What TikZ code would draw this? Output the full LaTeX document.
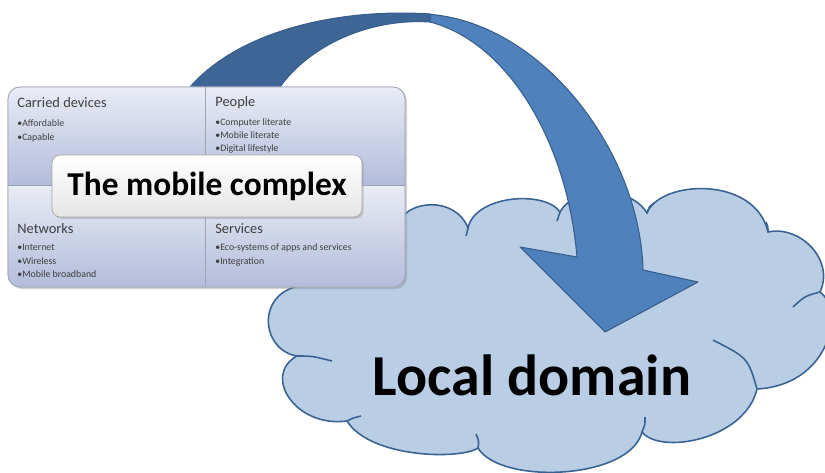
\documentclass[tikz,border=0pt]{standalone}
\usepackage{fontspec}
\setmainfont{Carlito}
\usetikzlibrary{positioning, shadows}

\definecolor{cloudfill}{HTML}{B9CDE5}
\definecolor{cloudline}{HTML}{3A6391}
\definecolor{arrowlight}{HTML}{4F81BD}
\definecolor{arrowdark}{HTML}{3D6697}
\definecolor{arrowline}{HTML}{385D8A}
\definecolor{quadtop}{HTML}{E9ECF5}
\definecolor{quadbot}{HTML}{B3BCDB}
\definecolor{quadline}{HTML}{9EA3B2}
\definecolor{txtgrey}{HTML}{3F3F3F}

\begin{document}
\begin{tikzpicture}
            [x=0.02cm, y=-0.02cm,
             cloudpath/.style={fill=cloudfill, draw=cloudline, line width=0.9pt},
             puff/.style={draw=cloudline, line width=0.9pt},
             ribbon/.style={fill=#1, draw=arrowline, line width=0.6pt, line join=round},
             half/.style={top color=quadtop, bottom color=quadbot},
             head/.style={anchor=base west, inner sep=0pt, text=txtgrey, font=\fontsize{8.2}{10}\selectfont},
             item/.style={anchor=base west, inner sep=0pt, text=txtgrey, font=\fontsize{5.6}{7}\selectfont},
             titlebox/.style={draw=gray!70, rounded corners=0.16cm, top color=white, bottom color=gray!20,
                              drop shadow={shadow xshift=1pt, shadow yshift=-1pt, opacity=0.3},
                              minimum width=6.2cm, minimum height=1.24cm, inner sep=0pt,
                              font=\bfseries\fontsize{19}{22}\selectfont}]
            \useasboundingbox (0,0) rectangle (825,473);
            \clip (0,0) rectangle (825,473);

            \path[cloudpath] (398,225) .. controls (405,200) and (455,195) .. (468,228)
                .. controls (475,195) and (545,190) .. (560,212)
                .. controls (575,185) and (630,185) .. (647,213)
                .. controls (660,180) and (755,175) .. (768,232)
                .. controls (800,225) and (835,260) .. (820,292)
                .. controls (845,310) and (830,385) .. (757,389)
                .. controls (745,440) and (660,455) .. (642,432)
                .. controls (630,480) and (500,485) .. (478,448)
                .. controls (460,460) and (370,458) .. (347,421)
                .. controls (295,428) and (262,375) .. (297,356)
                .. controls (260,350) and (255,290) .. (305,285)
                -- cycle;
            \draw[puff] (297,356) .. controls (312,356) .. (332,361);
            \draw[puff] (347,421) .. controls (353,418) .. (361,416);
            \draw[puff] (478,448) .. controls (479,441) .. (476,434);
            \draw[puff] (642,432) .. controls (645,425) .. (645,417);
            \draw[puff] (757,389) .. controls (748,358) .. (713,340);
            \draw[puff] (820,292) .. controls (805,296) .. (793,307);
            \draw[puff] (768,232) .. controls (768,227) .. (766,222);
            \draw[puff] (647,213) .. controls (649,207) .. (654,203);
            \draw[puff] (560,212) .. controls (558,216) .. (557,221);
            \draw[puff] (468,228) .. controls (467,232) .. (466,236);

            \filldraw[ribbon=arrowlight] (425,14) .. controls (540,20) and (640,150) .. (643,270)
                -- (698,282) -- (605,332) -- (520,247) -- (577,257)
                .. controls (567,140) and (507,42) .. (430,22) -- cycle;
            \filldraw[ribbon=arrowdark] (190,87) .. controls (240,30) and (340,8) .. (430,14)
                -- (430,22) .. controls (370,18) and (310,45) .. (280,87) -- cycle;

            \filldraw[draw=quadline, fill=white, rounded corners=0.24cm,
                      drop shadow={shadow xshift=1.2pt, shadow yshift=-1.2pt, opacity=0.35}]
                (8,87) rectangle (405,287);
            \shade[half] (8,185) [rounded corners=0.24cm] -- (8,87) -- (405,87) [sharp corners] -- (405,185) -- cycle;
            \shade[half] (8,185) -- (405,185) [rounded corners=0.24cm] -- (405,287) -- (8,287) [sharp corners] -- cycle;
            \draw[quadline, rounded corners=0.24cm] (8,87) rectangle (405,287);
            \draw[quadline, line width=0.3pt] (205,87) -- (205,287);
            \draw[quadline, line width=0.3pt] (8,185) -- (405,185);

            \node[head] (devices) at (17,108) {Carried devices};
            \node[head] (people) at (215,107) {People};
            \node[head] (networks) at (17,233) {Networks};
            \node[head] (services) at (215,233) {Services};

            \foreach \txt [count=\i] in {Affordable, Capable}
                \node[item] (dev\i) at (17,113.5+13.3*\i) {\textbullet\txt};
            \foreach \txt [count=\i] in {Computer literate, Mobile literate, Digital lifestyle}
                \node[item] (ppl\i) at (215,112+13.3*\i) {\textbullet\txt};
            \foreach \txt [count=\i] in {Internet, Wireless, Mobile broadband}
                \node[item] (net\i) at (17,237.5+13.3*\i) {\textbullet\txt};
            \foreach \txt [count=\i] in {Eco-systems of apps and services, Integration}
                \node[item] (srv\i) at (215,237.5+13.3*\i) {\textbullet\txt};

            \node[titlebox] (complex) at (207,186) {The mobile complex};
            \node[anchor=base, inner sep=0pt, font=\bfseries\fontsize{33}{38}\selectfont] (local) at (532,395) {Local domain};
        \end{tikzpicture}
\end{document}
